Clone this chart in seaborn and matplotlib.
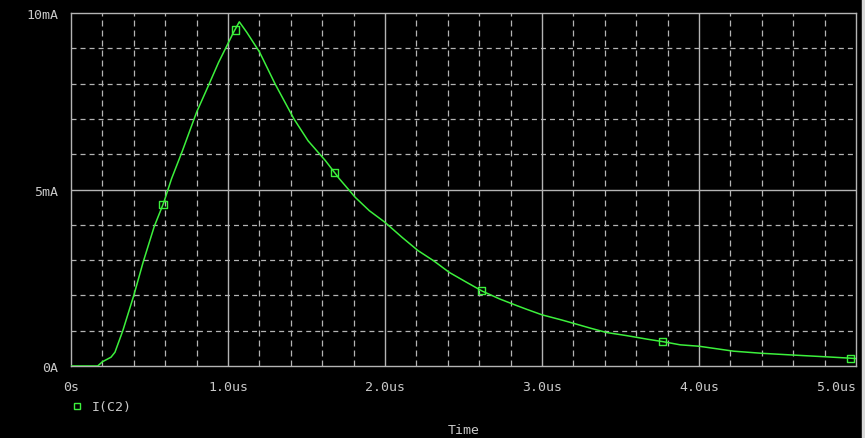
import numpy as np
import pandas as pd
import matplotlib
matplotlib.use("Agg")
import matplotlib.pyplot as plt
from matplotlib.lines import Line2D
import seaborn as sns

# I(C2) transient (time in us, current in mA)
time_us = [0.0, 0.17, 0.20, 0.255, 0.28, 0.33, 0.40, 0.46, 0.53, 0.59, 0.64, 0.71,
           0.80, 0.875, 0.94, 1.035, 1.072, 1.12, 1.20, 1.30, 1.42, 1.51, 1.62,
           1.71, 1.81, 1.90, 2.00, 2.11, 2.21, 2.31, 2.41, 2.52, 2.62, 2.73, 2.84,
           2.90, 3.00, 3.12, 3.20, 3.31, 3.41, 3.54, 3.67, 3.77, 3.88, 4.00, 4.22,
           4.40, 4.60, 4.81, 4.97, 5.00]
current_ma = [0.0, 0.0, 0.12, 0.25, 0.39, 1.0, 2.0, 2.95, 3.95, 4.62, 5.3, 6.1,
              7.19, 7.94, 8.6, 9.45, 9.75, 9.45, 8.9, 7.99, 7.0, 6.38, 5.82,
              5.3, 4.78, 4.4, 4.07, 3.64, 3.27, 2.98, 2.65, 2.37, 2.12, 1.9, 1.71,
              1.61, 1.45, 1.31, 1.21, 1.07, 0.95, 0.86, 0.76, 0.69, 0.60, 0.56, 0.42,
              0.36, 0.31, 0.26, 0.22, 0.21]

# trace markers
marker_t = [0.587, 1.047, 1.677, 2.616, 3.769, 4.966]
marker_i = [4.57, 9.52, 5.49, 2.13, 0.70, 0.22]

x_ticks = [0, 1, 2, 3, 4, 5]
x_labels = ["0s", "1.0us", "2.0us", "3.0us", "4.0us", "5.0us"]
y_ticks = [0, 5, 10]
y_labels = ["0A", "5mA", "10mA"]
trace_name = "I(C2)"

df = pd.DataFrame({"t": time_us, "i": current_ma})
mk = pd.DataFrame({"t": marker_t, "i": marker_i})

green = "#3cf03c"
grid_col = "#b4b4b4"
text_col = "#c8c8c8"

sns.set_style("dark")
plt.rcParams["font.family"] = ["DejaVu Sans Mono"]
plt.rcParams["lines.scale_dashes"] = False

fig = plt.figure(figsize=(8.65, 4.39), dpi=100, facecolor="black")
ax = fig.add_axes([71 / 865, 1 - 367 / 439, 785 / 865, 353 / 439])
ax.set_facecolor("black")

# dashed minor grid, solid major grid
for xv in np.arange(0.2, 5.0, 0.2):
    if abs(xv - round(xv)) > 1e-6:
        ax.axvline(xv, color=grid_col, lw=0.9, linestyle=(0, (4.3, 2.9)), zorder=1)
for yv in [1, 2, 3, 4, 6, 7, 8, 9]:
    ax.axhline(yv, color=grid_col, lw=0.9, linestyle=(0, (3.6, 2.9)), zorder=1)
for xv in [1, 2, 3, 4]:
    ax.axvline(xv, color=grid_col, lw=1.0, zorder=1)
ax.axhline(5, color=grid_col, lw=1.0, zorder=1)

sns.lineplot(data=df, x="t", y="i", color=green, lw=1.1, ax=ax, zorder=3)
sns.scatterplot(data=mk, x="t", y="i", marker="s", s=28, facecolor="none",
                edgecolor=green, linewidth=1.0, ax=ax, zorder=4)

ax.set_xlim(0, 5)
ax.set_ylim(0, 10)
ax.set_xticks(x_ticks)
ax.set_xticklabels(x_labels)
ax.set_yticks(y_ticks)
ax.set_yticklabels(y_labels)
ax.get_xticklabels()[-1].set_horizontalalignment("right")
ax.tick_params(axis="both", colors=grid_col, labelcolor=text_col, labelsize=9.5,
               length=6, width=1, direction="out", pad=3)
ax.tick_params(axis="x", pad=4)
for s in ax.spines.values():
    s.set_visible(True)
    s.set_color(grid_col)
    s.set_linewidth(1.0)

ax.set_xlabel("Time", color=text_col, fontsize=9.5, labelpad=22)
ax.set_ylabel("")

handle = Line2D([], [], marker="s", linestyle="none", markersize=5,
                markerfacecolor="none", markeredgecolor=green, markeredgewidth=1.0)
fig.legend(handles=[handle], labels=[trace_name], loc="center left",
           bbox_to_anchor=(59 / 865, 1 - 408 / 439), frameon=False,
           labelcolor=text_col, fontsize=9.5, handlelength=1.0, handletextpad=0.6)

# light frame on the right edge of the window
fig.add_artist(plt.Rectangle((1 - 3 / 865, 0), 3 / 865, 1, transform=fig.transFigure,
                             color="#d8d8d8", zorder=0))

fig.savefig("out.png", dpi=100, facecolor="black")
